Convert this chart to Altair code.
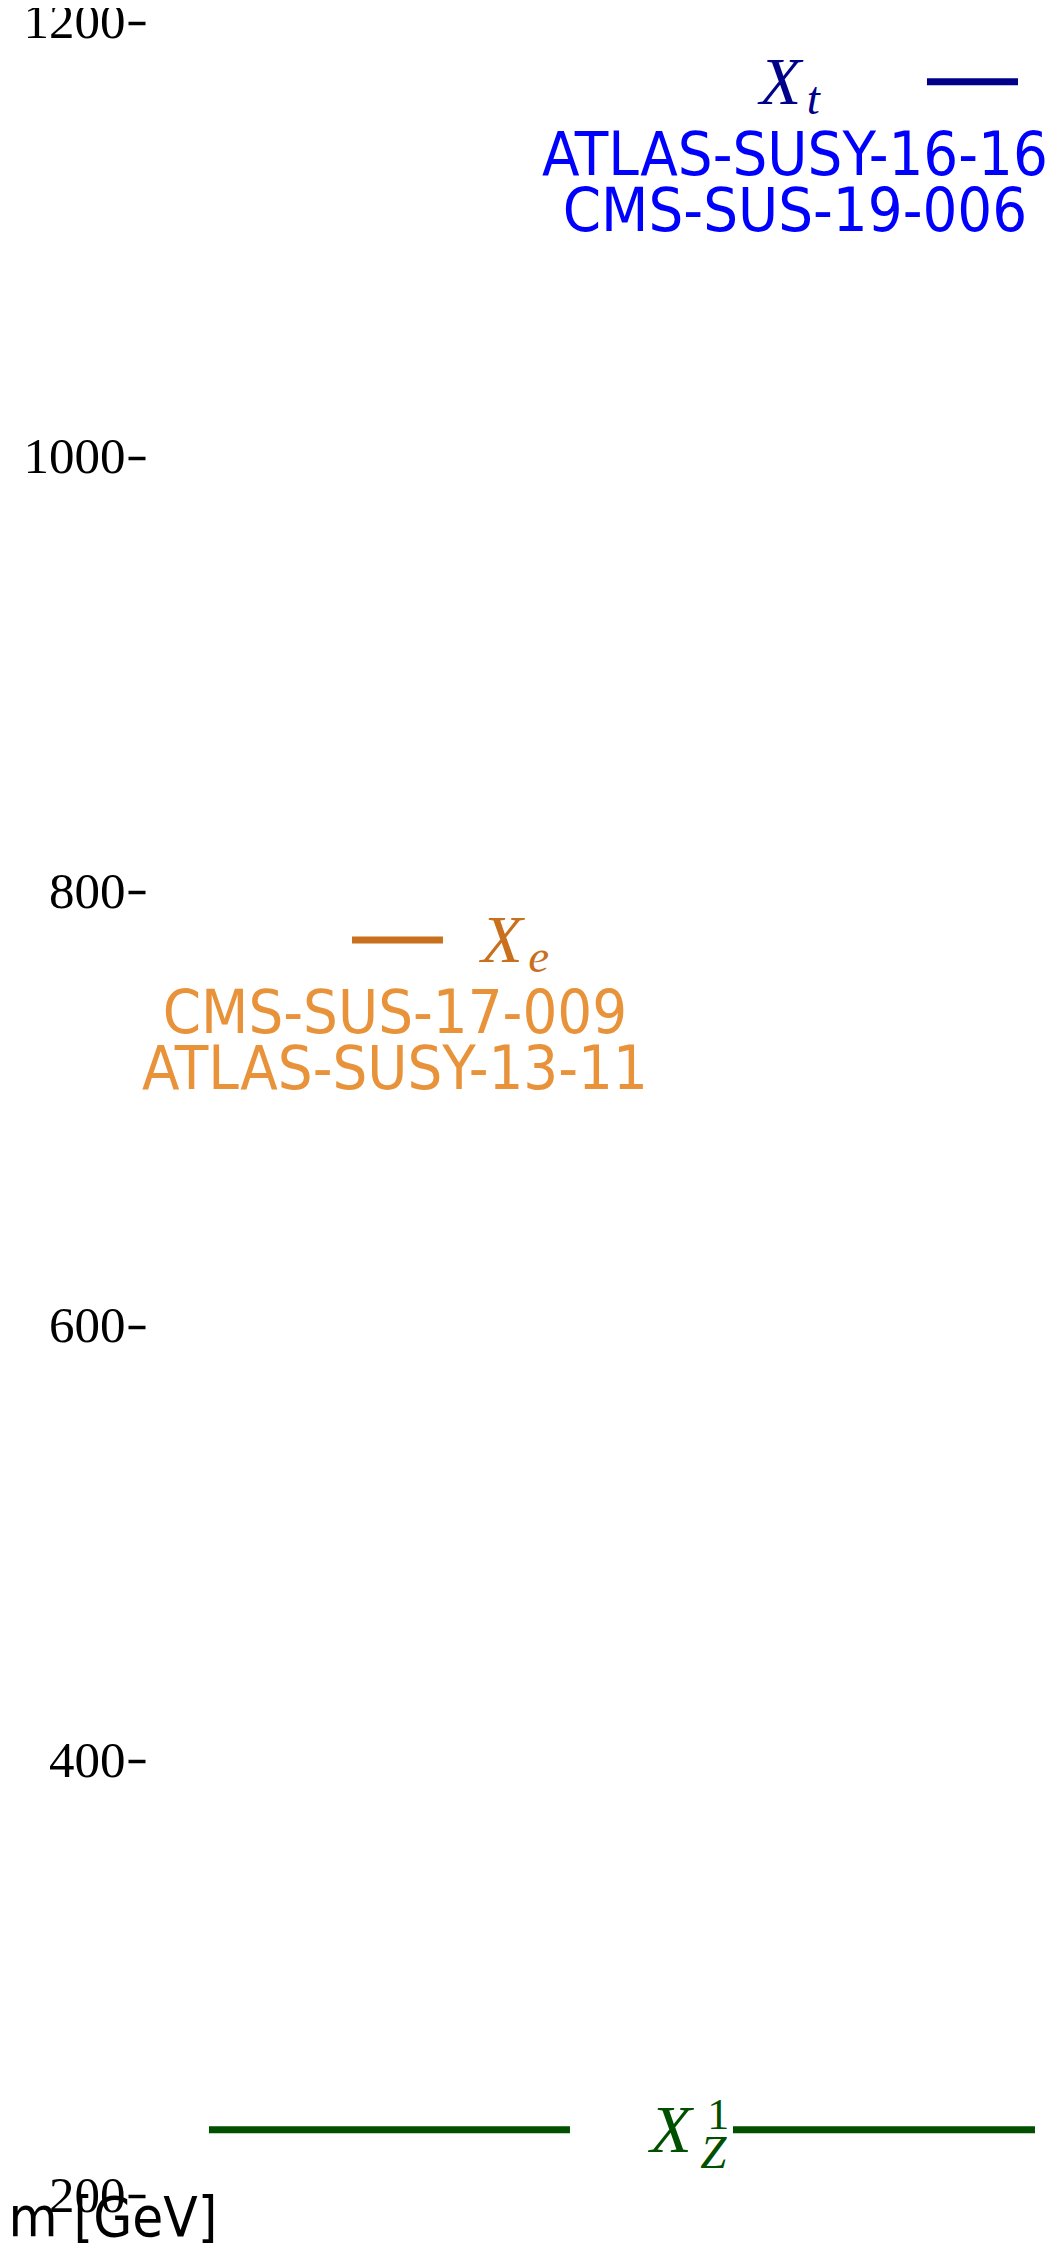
import altair as alt
import pandas as pd

# ---- data ----
# horizontal mass levels
seg_particle = ["X_Z^1", "X_Z^1", "X_e", "X_t"]
seg_mass = [230.5, 230.5, 778.0, 1173.0]
seg_x_start = [7.08, 65.04, 22.90, 86.50]
seg_x_end = [47.01, 98.45, 32.96, 96.57]
seg_color = ["#005000", "#005000", "#C8701E", "#00008B"]

# particle labels
lab_particle = ["X_t", "X_e", "X_Z^1"]
lab_main = ["X", "X", "X"]
lab_sub = ["t", "e", "Z"]
lab_sup = ["", "", "1"]
lab_mass = [1173.0, 778.0, 230.5]
lab_x = [68.0, 37.2, 55.9]
lab_color = ["#00008B", "#C8701E", "#005000"]

# analyses constraining each particle
ana_particle = ["X_t", "X_e"]
ana_mass = [1173.0, 778.0]
ana_x = [71.9, 27.65]
ana_text = ["ATLAS-SUSY-16-16\nCMS-SUS-19-006", "CMS-SUS-17-009\nATLAS-SUSY-13-11"]
ana_color = ["#0000FF", "#E8923A"]

y_ticks = [200, 400, 600, 800, 1000, 1200]

segs = pd.DataFrame({"particle": seg_particle, "mass": seg_mass,
                     "x_start": seg_x_start, "x_end": seg_x_end, "color": seg_color})
labs = pd.DataFrame({"particle": lab_particle, "main": lab_main, "sub": lab_sub,
                     "sup": lab_sup, "mass": lab_mass, "x": lab_x, "color": lab_color})
anas = pd.DataFrame({"particle": ana_particle, "mass": ana_mass, "x": ana_x,
                     "text": ana_text, "color": ana_color})

SANS = "DejaVu Sans Condensed, Liberation Sans Narrow, DejaVu Sans, sans-serif"
SERIF = "Liberation Serif, DejaVu Serif, serif"

y_scale = alt.Scale(domain=[194.5, 1206.9], nice=False, zero=False)
x_scale = alt.Scale(domain=[0, 100], nice=False, zero=False)

y_axis = alt.Axis(values=y_ticks, format="d", title="m [GeV]", domain=False, grid=False,
                  labelFont=SERIF, labelFontSize=51, labelColor="black",
                  tickColor="black", tickSize=17, tickWidth=3.5, labelPadding=3,
                  labelOverlap=False, labelFlush=False,
                  titleAngle=0, titleX=-137, titleY=2227, titleAlign="left",
                  titleBaseline="alphabetic", titleFont=SANS, titleFontSize=56,
                  titleFontWeight="normal", titleColor="black")


def Y():
    return alt.Y("mass:Q", scale=y_scale, axis=y_axis)


def X(field):
    return alt.X(field, scale=x_scale, axis=None)


lines = alt.Chart(segs).mark_rule(strokeWidth=7, strokeCap="butt").encode(
    x=X("x_start:Q"), x2="x_end:Q", y=Y(),
    color=alt.Color("color:N", scale=None),
)

main = alt.Chart(labs).mark_text(align="left", baseline="alphabetic", dy=22,
                                 font=SERIF, fontStyle="italic", fontSize=68).encode(
    x=X("x:Q"), y=Y(), text="main:N", color=alt.Color("color:N", scale=None))

sub_only = alt.Chart(labs).transform_filter("datum.sup == ''").mark_text(
    align="left", baseline="alphabetic", dx=47, dy=32,
    font=SERIF, fontStyle="italic", fontSize=47).encode(
    x=X("x:Q"), y=Y(), text="sub:N", color=alt.Color("color:N", scale=None))

sub_z = alt.Chart(labs).transform_filter("datum.sup != ''").mark_text(
    align="left", baseline="alphabetic", dx=50, dy=38,
    font=SERIF, fontStyle="italic", fontSize=47).encode(
    x=X("x:Q"), y=Y(), text="sub:N", color=alt.Color("color:N", scale=None))

sup_z = alt.Chart(labs).transform_filter("datum.sup != ''").mark_text(
    align="left", baseline="alphabetic", dx=57, dy=-1,
    font=SERIF, fontSize=44).encode(
    x=X("x:Q"), y=Y(), text="sup:N", color=alt.Color("color:N", scale=None))

analyses = alt.Chart(anas).mark_text(align="center", baseline="alphabetic", dy=93,
                                     lineBreak="\n", lineHeight=56,
                                     font=SANS, fontSize=61).encode(
    x=X("x:Q"), y=Y(), text="text:N", color=alt.Color("color:N", scale=None))

chart = alt.layer(lines, main, sub_only, sub_z, sup_z, analyses).properties(
    width=904, height=2200,
    padding={"left": 137, "top": 0, "right": 0, "bottom": 41},
    autosize=alt.AutoSizeParams(type="none"),
).configure_view(stroke=None)

chart.save("out.html", embed_options={"renderer": "svg", "actions": False})
